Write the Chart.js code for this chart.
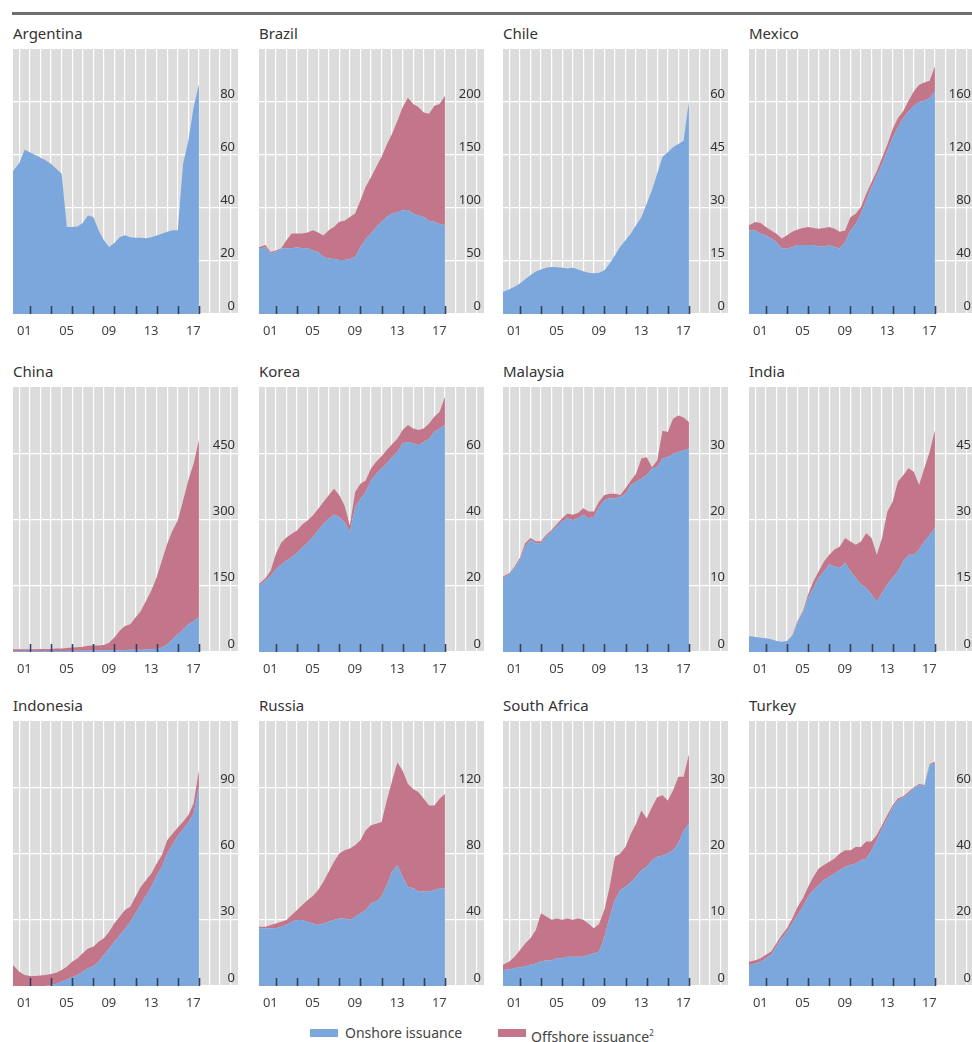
<!DOCTYPE html>
<html><head><meta charset="utf-8">
<script src="https://cdn.jsdelivr.net/npm/chart.js@4.4.1/dist/chart.umd.min.js"></script>
<style>
html,body{margin:0;padding:0;background:#fff;}
body{width:972px;height:1042px;overflow:hidden;position:relative;font-family:"Noto Sans",sans-serif;}
.rule{position:absolute;left:12px;top:12px;width:960px;height:3px;background:#6f6f6f;}
.title{position:absolute;font-size:15px;color:#333;line-height:18px;white-space:nowrap;}
.panel{position:absolute;}
.leg{position:absolute;top:1024px;font-size:14px;color:#444;line-height:18px;white-space:nowrap;}
.sw{position:absolute;width:28px;height:8px;top:1029px;}
sup{font-size:8px;}
</style></head><body>
<div class="rule"></div>
<div id="root"></div>
<div class="sw" id="swOn" style="left:310px;"></div>
<div class="leg" style="left:345px;">Onshore issuance</div>
<div class="sw" id="swOff" style="left:498px;"></div>
<div class="leg" style="left:531px;">Offshore issuance<sup>2</sup></div>
<script>
// ---- data ----
const periods = [2000.4, 2001.0, 2001.5, 2002.0, 2002.5, 2003.0, 2003.5, 2004.0, 2004.5, 2005.0, 2005.5, 2006.0, 2006.5, 2007.0, 2007.5, 2008.0, 2008.5, 2009.0, 2009.5, 2010.0, 2010.5, 2011.0, 2011.5, 2012.0, 2012.5, 2013.0, 2013.5, 2014.0, 2014.5, 2015.0, 2015.5, 2016.0, 2016.5, 2017.0, 2017.5, 2018.0];
const gridYears = [2001, 2002, 2003, 2004, 2005, 2006, 2007, 2008, 2009, 2010, 2011, 2012, 2013, 2014, 2015, 2016, 2017, 2018, 2019, 2020, 2021];
const labelYears = [2001, 2005, 2009, 2013, 2017];
const tickYears = [2002, 2004, 2006, 2008, 2010, 2012, 2014, 2016, 2018];

const countries = ["Argentina", "Brazil", "Chile", "Mexico", "China", "Korea", "Malaysia", "India", "Indonesia", "Russia", "South Africa", "Turkey"];
const yMax = [100, 250, 75, 200, 600, 80, 40, 60, 120, 160, 40, 80];
const yStep = [20, 50, 15, 40, 150, 20, 10, 15, 30, 40, 10, 20];

const onshoreArgentina = [54, 57, 62, 61, 60, 59, 58, 56.6, 54.8, 52.9, 32.8, 32.8, 33, 34.3, 37.2, 36.6, 31.6, 27.8, 25.3, 26.8, 29, 29.7, 29, 28.8, 28.8, 28.6, 29, 29.6, 30.3, 31, 31.6, 31.6, 56.6, 65.4, 78, 86.7];
const offshoreArgentina = [0, 0, 0, 0, 0, 0, 0, 0, 0, 0, 0, 0, 0, 0, 0, 0, 0, 0, 0, 0, 0, 0, 0, 0, 0, 0, 0, 0, 0, 0, 0, 0, 0, 0, 0, 0];

const onshoreBrazil = [61.8, 63, 57, 58.6, 61.8, 62, 62, 63, 62, 62, 60, 58.6, 54, 52.4, 52, 51, 51, 52, 54, 63, 71, 76, 82, 87, 91.5, 94.7, 96, 97.8, 98, 94.7, 93, 91.5, 88, 87, 85, 84];
const offshoreBrazil = [1.2, 2, 1.6, 1.4, 0.2, 7.6, 13.9, 13, 14, 15, 19, 18.4, 20, 26.6, 30, 36, 37, 39.5, 40.7, 44, 49, 53, 56.6, 61, 68.5, 75.3, 86, 97.2, 106, 103.3, 102, 98.5, 101, 109.5, 113, 122];

const onshoreChile = [6.3, 7.0, 7.7, 8.6, 9.8, 11, 12, 12.6, 13.1, 13.3, 13.2, 13.1, 12.9, 13.1, 12.6, 12.1, 11.7, 11.5, 11.7, 12.4, 14.3, 16.6, 19, 20.9, 22.7, 25.1, 27.4, 31.2, 35, 39.7, 44.4, 45.8, 47.2, 48.1, 49, 60.3];
const offshoreChile = [0, 0, 0, 0, 0, 0, 0, 0, 0, 0, 0, 0, 0, 0, 0, 0, 0, 0, 0, 0, 0, 0, 0, 0, 0, 0, 0, 0, 0, 0, 0, 0, 0, 0, 0, 0];

const onshoreMexico = [63, 63, 60.6, 59.4, 57, 54.4, 49.4, 49.4, 50.6, 52, 52, 52, 52, 51, 51, 52, 50.6, 49.4, 54.4, 63, 68, 75.7, 85.7, 95.7, 104.5, 113, 123, 133, 141, 148, 153, 157, 160, 161, 163, 168];
const offshoreMexico = [4, 6.4, 8.1, 6.3, 6, 6.2, 7.6, 10, 11.4, 11.7, 13, 13.7, 13, 13.4, 14, 13.7, 13.8, 12.6, 8.6, 10, 7.7, 5, 5, 3.8, 3.5, 5, 5, 6.6, 7, 5, 8, 11, 13, 13.7, 13, 19];

const onshoreChina = [2, 2, 2, 2, 2, 2, 2, 2, 2, 2.5, 2.5, 3, 3, 3, 3, 3.5, 3.5, 3.5, 4, 4, 4, 4.5, 5, 5, 5, 5.5, 6, 7, 10, 17, 29, 40, 51, 63, 70, 78];
const offshoreChina = [4, 4, 4, 4, 4, 5, 5, 5, 6, 5.5, 6.5, 7, 8, 9, 11, 11.5, 11.5, 12.5, 17, 29, 44, 54.5, 58, 73, 88, 110.5, 133, 162, 197, 228, 246, 258, 292, 326, 356, 402];

const onshoreKorea = [20, 21.5, 23, 25, 26.4, 27.6, 28.6, 30, 31.6, 33, 34.8, 36.7, 38.7, 40.2, 41.5, 40.7, 39.2, 36.2, 43.7, 46.3, 48.3, 51.8, 53.8, 55.4, 57, 58.9, 60.4, 63, 63.4, 63, 62.4, 63.4, 64.4, 66.5, 67.5, 68.5];
const offshoreKorea = [0.5, 0.8, 1.5, 4.6, 6.6, 7, 7.1, 6.7, 6.9, 6.7, 6.4, 6.5, 6.6, 7.1, 7.8, 6.6, 5, 2, 4.6, 4.5, 3.5, 3.6, 3.6, 3.7, 4, 3.8, 4, 4, 5.1, 4.5, 4.6, 4.1, 4.6, 4.5, 5, 8.5];

const onshoreMalaysia = [11.2, 11.7, 12.7, 13.9, 15.9, 16.9, 16.4, 16.4, 17.4, 18.2, 18.9, 19.7, 20.2, 19.9, 20.2, 20.7, 20.2, 20.4, 21.9, 22.9, 23.2, 23.2, 23.4, 23.9, 25.2, 25.7, 26.2, 26.7, 27.7, 27.9, 29.2, 29.4, 29.9, 30.2, 30.4, 30.7];
const offshoreMalaysia = [0.2, 0.2, 0.2, 0.3, 0.5, 0.3, 0.3, 0.3, 0.3, 0.2, 0.4, 0.5, 0.7, 0.8, 0.8, 1, 1, 0.8, 0.8, 0.8, 0.7, 0.7, 0.3, 0.8, 0.7, 1.2, 3, 2.7, 0.2, 1, 4.2, 3.8, 5.3, 5.5, 5, 4];

const onshoreIndia = [3.6, 3.4, 3.2, 3.1, 2.9, 2.5, 2.3, 2.5, 3.6, 6.6, 8.9, 12.3, 14.5, 16.8, 18.3, 19.8, 19.4, 19, 20.2, 18.3, 16.8, 15.3, 14.5, 13, 11.5, 13.4, 15.3, 16.8, 18.3, 20.5, 22, 22, 23.2, 25, 26.5, 28];
const offshoreIndia = [0, 0, 0, 0, 0, 0, 0, 0, 0.2, 0.4, 0.3, 0.7, 1.5, 1.5, 2.2, 2.2, 3.8, 4.9, 5.6, 6.7, 7.5, 9.7, 12.4, 12.8, 10.5, 12.4, 16.5, 17.2, 20.3, 19.5, 19.6, 18.8, 14.6, 16.6, 18.8, 22.2];

const onshoreIndonesia = [0, 0, 0, 0, 0, 0, 0, 0.5, 1, 2, 3, 4, 5, 6.5, 8, 9, 11, 14, 17, 20, 23, 26, 29, 33, 37, 41, 45, 50, 54, 60, 64, 68, 71, 74, 78, 90];
const offshoreIndonesia = [9.5, 6.5, 5, 4.5, 4.5, 4.8, 5, 4.9, 5, 5.2, 5.7, 7, 7.5, 8.3, 9, 8.8, 9, 7.6, 7.6, 8.4, 8.4, 8.4, 6.9, 7.4, 8, 7, 6, 5.5, 5.3, 6, 5, 3.8, 3.4, 3.4, 4.7, 7.7];

const onshoreRussia = [34.8, 34.8, 34.8, 34.8, 35.8, 36.8, 38.8, 39.8, 39.8, 38.8, 37.8, 36.8, 37.8, 38.8, 39.8, 40.8, 40.8, 39.8, 41.8, 43.9, 45.9, 49.9, 51, 54, 61, 69, 73, 66, 60, 59, 57, 57, 57, 58, 59, 59];
const offshoreRussia = [1, 1, 2, 3, 3, 3, 4.1, 6.1, 9.1, 13.2, 16.5, 21.2, 25.2, 30.2, 35.2, 39.2, 41.2, 43.2, 43.2, 44.1, 48.1, 47.1, 47, 45, 51, 55, 62, 64, 62, 60, 60, 56, 52, 51, 54, 57];

const onshoreSouthAfrica = [2.4, 2.5, 2.7, 2.8, 3, 3.2, 3.4, 3.7, 3.9, 3.9, 4.2, 4.2, 4.4, 4.4, 4.4, 4.4, 4.7, 4.9, 5.2, 7.4, 10.5, 13, 14.5, 15, 15.7, 16.5, 17.5, 18, 19, 19.5, 19.7, 20, 20.5, 21.5, 23.5, 24.5];
const offshoreSouthAfrica = [0.8, 1.2, 1.7, 2.6, 3.4, 4, 5, 7.3, 6.6, 6.1, 6, 5.8, 5.8, 5.6, 5.8, 5.6, 4.7, 3.8, 4.2, 4.1, 4.5, 6.5, 5.5, 6, 7.3, 8, 9, 7.3, 8, 9, 9.1, 8, 9, 10.1, 8.1, 10.5];

const onshoreTurkey = [6.3, 6.8, 7.3, 8.4, 9.4, 11.9, 14.4, 16.4, 18.9, 21.4, 23.9, 27, 29, 30.5, 32, 33, 34, 35, 36, 36.5, 37, 38, 38.5, 41, 44, 47.6, 50.6, 54, 56, 57, 58, 59.7, 60.7, 60.2, 66.7, 67.2];
const offshoreTurkey = [1, 1, 1.1, 1, 1, 1, 1, 1, 1.5, 2.5, 2.6, 3, 4, 5, 4.5, 4.5, 4.5, 5, 5, 4.5, 5, 4, 5.1, 2.6, 1.6, 1, 1, 0.6, 0.6, 0.3, 0.6, 0.3, 0.3, 0.5, 0.3, 0.5];

const onshoreSeries = [onshoreArgentina, onshoreBrazil, onshoreChile, onshoreMexico, onshoreChina, onshoreKorea, onshoreMalaysia, onshoreIndia, onshoreIndonesia, onshoreRussia, onshoreSouthAfrica, onshoreTurkey];
const offshoreSeries = [offshoreArgentina, offshoreBrazil, offshoreChile, offshoreMexico, offshoreChina, offshoreKorea, offshoreMalaysia, offshoreIndia, offshoreIndonesia, offshoreRussia, offshoreSouthAfrica, offshoreTurkey];

// ---- styling ----
const BLUE = '#7ba7dc';
const RED = '#c3768a';
const GREY = '#dcdcdc';
const colLeft = [13, 259, 503, 749];
const rowTop = [49, 387, 721];
const AREA_W = 225, AREA_H = 265, XAXIS_H = 30;

document.getElementById('swOn').style.background = BLUE;
document.getElementById('swOff').style.background = RED;

const bgPlugin = {
  id: 'panelBg',
  beforeDraw(chart) {
    const {ctx, chartArea: a} = chart;
    ctx.save();
    ctx.fillStyle = GREY;
    ctx.fillRect(a.left, a.top, a.right - a.left, a.bottom - a.top);
    ctx.restore();
  }
};
const tickPlugin = {
  id: 'innerTicks',
  afterDatasetsDraw(chart) {
    const {ctx, chartArea: a, scales} = chart;
    ctx.save();
    ctx.strokeStyle = '#34415a';
    ctx.lineWidth = 1.6;
    tickYears.forEach(yr => {
      const x = Math.round(scales.x.getPixelForValue(yr)) + 0.5;
      ctx.beginPath();
      ctx.moveTo(x, a.bottom);
      ctx.lineTo(x, a.bottom - 8);
      ctx.stroke();
    });
    ctx.restore();
  }
};

const root = document.getElementById('root');
countries.forEach((name, i) => {
  const col = i % 4, row = Math.floor(i / 4);
  const left = colLeft[col], top = rowTop[row];
  const t = document.createElement('div');
  t.className = 'title';
  t.textContent = name;
  t.style.left = left + 'px';
  t.style.top = (top - 25) + 'px';
  root.appendChild(t);

  const c = document.createElement('canvas');
  c.className = 'panel';
  c.width = AREA_W; c.height = AREA_H + XAXIS_H;
  c.style.left = left + 'px'; c.style.top = top + 'px';
  c.style.width = AREA_W + 'px'; c.style.height = (AREA_H + XAXIS_H) + 'px';
  root.appendChild(c);

  const max = yMax[i];
  const on = onshoreSeries[i], off = offshoreSeries[i];
  new Chart(c, {
    type: 'line',
    data: {
      datasets: [
        { label: 'Onshore issuance', data: periods.map((x, k) => ({x, y: on[k]})), backgroundColor: BLUE, borderWidth: 0, pointRadius: 0, fill: 'origin', tension: 0 },
        { label: 'Offshore issuance', data: periods.map((x, k) => ({x, y: off[k]})), backgroundColor: RED, borderWidth: 0, pointRadius: 0, fill: '-1', tension: 0 }
      ]
    },
    options: {
      responsive: false,
      animation: false,
      devicePixelRatio: 1,
      layout: { padding: 0 },
      plugins: { legend: { display: false }, tooltip: { enabled: false } },
      scales: {
        x: {
          type: 'linear', min: 2000.4, max: 2021.7,
          afterBuildTicks: s => { s.ticks = gridYears.map(v => ({value: v})); },
          afterFit: s => { s.height = XAXIS_H; s.paddingLeft = 0; s.paddingRight = 0; },
          grid: { color: '#ffffff', lineWidth: 1.2, drawTicks: false },
          border: { display: false },
          ticks: {
            autoSkip: false, maxRotation: 0, padding: 9, labelOffset: 5,
            color: '#444', font: { family: 'Noto Sans', size: 13 },
            callback: v => labelYears.includes(v) ? String(v).slice(2) : ''
          }
        },
        y: {
          position: 'right', stacked: true, min: 0, max: max,
          afterFit: s => { s.width = 0; s.paddingTop = 0; s.paddingBottom = 0; },
          grid: { color: ctx => (ctx.tick && ctx.tick.value >= max) ? 'rgba(0,0,0,0)' : '#ffffff', lineWidth: 1.2, drawTicks: false },
          border: { display: false },
          ticks: {
            stepSize: yStep[i], mirror: true, padding: -3, labelOffset: -8,
            color: '#333', font: { family: 'Noto Sans', size: 13 },
            callback: v => v >= max ? '' : String(v)
          }
        }
      }
    },
    plugins: [bgPlugin, tickPlugin]
  });
});
</script>
</body></html>
